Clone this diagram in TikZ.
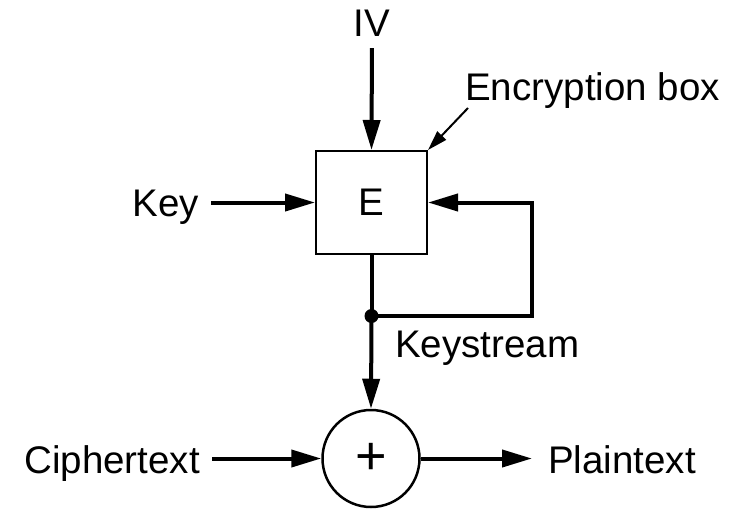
\documentclass[tikz,border=0pt]{standalone}
\usepackage{fontspec}
\setmainfont{Liberation Sans}
\usetikzlibrary{arrows.meta}
\begin{document}
\begin{tikzpicture}[x=1pt,y=-1pt,
  lbl/.style={inner sep=0pt, font=\fontsize{38.5}{46}\selectfont},
  arr/.style={line width=4pt, -{Triangle[length=30pt,width=17pt]}},
  thinarr/.style={line width=2pt, -{Triangle[length=20pt,width=12pt]}},
  fbline/.style={line width=4pt}]
\useasboundingbox (0,0) rectangle (734,509);
% nodes
\node[draw, line width=2pt, minimum width=111pt, minimum height=103pt, inner sep=0pt,
      font=\fontsize{38.5}{46}\selectfont] (E) at (371.5,202.5) {E};
\node[circle, draw, line width=2.5pt, minimum size=97pt, inner sep=0pt,
      font=\fontsize{54}{60}\selectfont] (X) at (371,458.5) {+};
\node[lbl, anchor=base] (IV) at (372,36) {IV};
\node[lbl, anchor=base east] (Key) at (199,216) {Key};
\node[lbl, anchor=base west] (Enc) at (465,100) {Encryption box};
\node[lbl, anchor=base west] (KS) at (395,357) {Keystream};
\node[lbl, anchor=base east] (Ciph) at (200,473) {Ciphertext};
\node[lbl, anchor=base west] (Plain) at (548,473) {Plaintext};
\node[circle, fill, inner sep=0pt, minimum size=14pt] (dot) at (371.5,316) {};
\coordinate (fb) at (532,316);
\coordinate (lead) at (468,108);
% connectors
\draw[arr, shorten <=12pt] (IV.south) -- (E.north);
\draw[arr, shorten <=12pt] (Key.east |- E.west) -- (E.west);
\draw[thinarr] (lead) -- (E.north east);
\draw[fbline] (E.south) -- (dot.center);
\draw[arr] (dot.center) -- (fb) |- (E.east);
\draw[arr] (dot.center) -- (X.north);
\draw[arr, shorten <=12pt] (Ciph.east |- X.west) -- (X.west);
\draw[arr, shorten >=16pt] (X.east) -- (Plain.west |- X.east);
\end{tikzpicture}
\end{document}
